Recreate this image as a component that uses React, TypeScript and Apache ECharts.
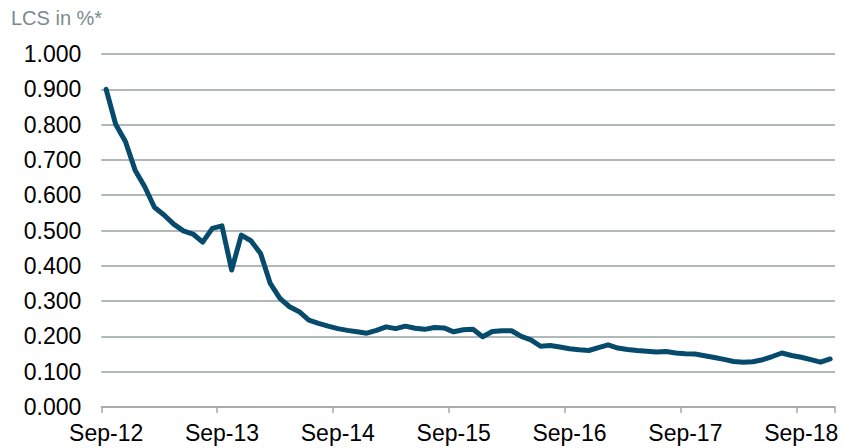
import React, { useEffect, useRef } from "react";
import * as echarts from "echarts";

const MONTH_NAMES = ["Jan", "Feb", "Mar", "Apr", "May", "Jun", "Jul", "Aug", "Sep", "Oct", "Nov", "Dec"];

// Monthly categories from Sep-12 to Dec-18
const categories: string[] = [];
for (let y = 2012; y <= 2018; y++) {
  for (let m = 0; m < 12; m++) {
    if (y === 2012 && m < 8) continue;
    categories.push(`${MONTH_NAMES[m]}-${String(y).slice(2)}`);
  }
}

const lcsValues = [
  0.900, 0.800, 0.752, 0.671, 0.624, 0.566, 0.544, 0.518, 0.499, 0.490,
  0.467, 0.506, 0.513, 0.388, 0.487, 0.471, 0.435, 0.350, 0.308, 0.284,
  0.270, 0.246, 0.237, 0.229, 0.222, 0.217, 0.213, 0.209, 0.217, 0.227,
  0.222, 0.229, 0.223, 0.220, 0.225, 0.224, 0.213, 0.219, 0.220, 0.199,
  0.214, 0.216, 0.216, 0.200, 0.190, 0.172, 0.174, 0.170, 0.165, 0.162,
  0.160, 0.168, 0.176, 0.167, 0.163, 0.160, 0.158, 0.156, 0.157, 0.153,
  0.151, 0.150, 0.145, 0.140, 0.135, 0.129, 0.127, 0.128, 0.134, 0.143,
  0.153, 0.146, 0.141, 0.134, 0.127, 0.136,
];

const yTicks = [0, 0.1, 0.2, 0.3, 0.4, 0.5, 0.6, 0.7, 0.8, 0.9, 1.0];
const titleText = "LCS in %*";

export default function App() {
  const ref = useRef<HTMLDivElement>(null);
  useEffect(() => {
    if (!ref.current) return;
    const chart = echarts.init(ref.current, undefined, { renderer: "svg" });
    const font = "Liberation Sans, Arial, Helvetica, sans-serif";
    chart.setOption({
      animation: false,
      backgroundColor: "#ffffff",
      title: {
        text: titleText,
        left: 6,
        top: 3,
        textStyle: { fontFamily: font, fontSize: 20, fontWeight: "normal", color: "#7A8A8E" },
      },
      grid: {
        left: 101.3,
        right: 7,
        top: 54,
        bottom: 41,
        containLabel: false,
        outerBoundsMode: "none",
      },
      xAxis: {
        type: "category",
        data: categories,
        boundaryGap: true,
        axisLine: { show: true, lineStyle: { color: "#A8A8A8", width: 1.5 } },
        axisTick: { show: true, interval: 11, length: 6, lineStyle: { color: "#A8A8A8", width: 1.5 } },
        axisLabel: {
          interval: 11,
          margin: 14,
          fontFamily: font,
          fontSize: 23,
          color: "#000000",
        },
        splitLine: { show: false },
      },
      yAxis: {
        type: "value",
        min: yTicks[0],
        max: yTicks[yTicks.length - 1],
        interval: 0.1,
        axisLine: { show: false },
        axisTick: { show: false },
        axisLabel: {
          margin: 20,
          fontFamily: font,
          fontSize: 23,
          color: "#000000",
          formatter: (v: number) => v.toFixed(3),
        },
        splitLine: { show: true, lineStyle: { color: "#B0B8BA", width: 1.8 } },
      },
      series: [
        {
          type: "line",
          data: lcsValues,
          showSymbol: false,
          symbol: "none",
          smooth: false,
          lineStyle: { color: "#064B6C", width: 5, cap: "round", join: "round" },
          z: 5,
        },
      ],
    });
    return () => chart.dispose();
  }, []);
  return (
    <div
      ref={ref}
      style={{ position: "fixed", left: 0, top: 0, width: 842, height: 448, background: "#fff" }}
    />
  );
}
